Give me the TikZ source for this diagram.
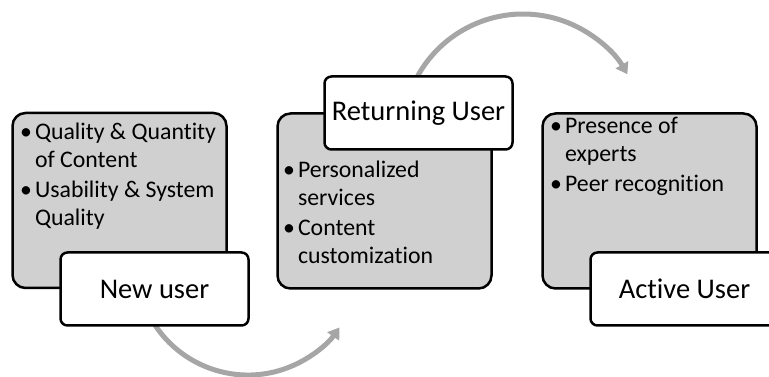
\documentclass[tikz,border=0pt]{standalone}
\usepackage{fontspec}
\setmainfont[Ligatures=NoCommon]{Carlito}
\usetikzlibrary{arrows.meta}
\definecolor{boxgray}{RGB}{208,208,208}
\definecolor{arrowgray}{RGB}{166,166,166}

\begin{document}
\begin{tikzpicture}[x=1pt,y=1pt]
    \tikzset{stage/.style={draw=black, line width=2.5pt, fill=boxgray, rounded corners=13pt,
            minimum width=214pt, minimum height=175pt, inner sep=0pt},
        user/.style={draw=black, line width=2.5pt, fill=white, rounded corners=7pt,
            minimum width=188pt, minimum height=73pt, font=\fontsize{28.5}{33}\selectfont},
        items/.style={anchor=north west, inner sep=0pt, font=\fontsize{23.8}{28}\selectfont},
        flow/.style={draw=arrowgray, line width=5pt, -{Triangle[width=14pt,length=11pt]}}}
    \useasboundingbox (0,0) rectangle (769,377);

    %Pfeile (liegen hinter den Kaesten)
    \coordinate (fromnew) at (146.9,66.4);
    \coordinate (fromret) at (413.8,293.4);
    \draw[flow] (fromnew) arc[start angle=205, end angle=325, radius=111.6pt];
    \draw[flow] (fromret) arc[start angle=155, end angle=30,  radius=120.5pt];

    %Neuer Nutzer
    \node[stage] (newbg) at (119.5,176.5) {};
    \node[items] (newtxt) at (20,257) {\begin{tabular}{@{}l@{\hspace{3pt}}l@{}}
        \textbullet & Quality \& Quantity\\
                    & of Content\\[2pt]
        \textbullet & Usability \& System\\
                    & Quality
        \end{tabular}};

    %Wiederkehrender Nutzer
    \node[stage] (retbg) at (384.5,176) {};
    \node[items] (rettxt) at (283,219.6) {\begin{tabular}{@{}l@{\hspace{3pt}}l@{}}
        \textbullet & Personalized\\
                    & services\\[2pt]
        \textbullet & Content\\
                    & customization
        \end{tabular}};

    %Aktiver Nutzer
    \node[stage] (actbg) at (649.5,176) {};
    \node[items] (acttxt) at (550,263.6) {\begin{tabular}{@{}l@{\hspace{3pt}}l@{}}
        \textbullet & Presence of\\
                    & experts\\[2pt]
        \textbullet & Peer recognition
        \end{tabular}};

    %Titel
    \node[user] (new) at (154.5,88)  {New user};
    \node[user] (ret) at (418.5,264) {Returning User};
    \node[user] (act) at (684.5,88)  {Active User};
\end{tikzpicture}
\end{document}
